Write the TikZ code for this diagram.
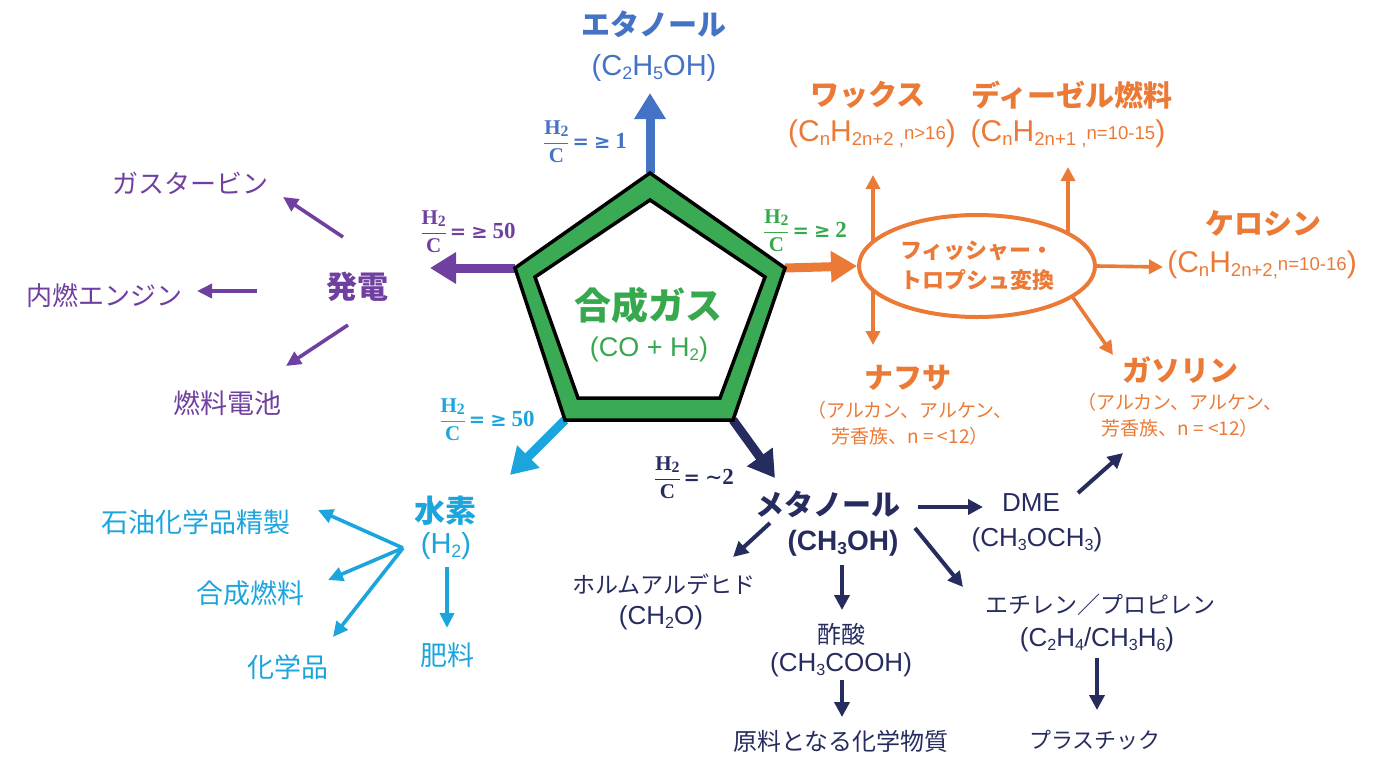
\documentclass[tikz,border=0pt]{standalone}
\usepackage{fontspec}
\setmainfont{Liberation Sans}
\newfontfamily\jp{Noto Sans CJK JP}
\newfontfamily\rs{Liberation Serif}
\newfontfamily\dv{DejaVu Serif}
\usetikzlibrary{arrows.meta,shapes.geometric}
\definecolor{eblue}{HTML}{4472C4}
\definecolor{purp}{HTML}{7040A0}
\definecolor{pgreen}{HTML}{3BAA55}
\definecolor{tgreen}{HTML}{37A84E}
\definecolor{orng}{HTML}{EB7A36}
\definecolor{cyanb}{HTML}{1CA5DD}
\definecolor{navy}{HTML}{262C5E}
\newcommand\lo[1]{\raisebox{-0.28ex}{\scalebox{0.62}{#1}}}
\newcommand\mdl[1]{\raisebox{0.1ex}{\scalebox{0.62}{#1}}}
\newcommand\ratio[1]{$\displaystyle\frac{\hbox{\rs\bfseries H\raisebox{-0.2ex}{\scalebox{0.75}{2}}}}{\hbox{\rs\bfseries C}}$\hspace{3pt}{\fontsize{23}{26}\selectfont{\dv\bfseries\scalebox{0.85}{=}}\hspace{5pt}\rs\bfseries #1}}
\newcommand\geqs{{\dv\bfseries\scalebox{0.85}{≥}}\hspace{5pt}}
\newcommand\sims{{\dv\bfseries\scalebox{0.9}{∼}}}
\begin{document}
\begin{tikzpicture}[x=1pt,y=-1pt,
  title/.style={font=\fontsize{29}{33}\selectfont\jp\bfseries},
  jtxt/.style={font=\fontsize{27}{31}\selectfont\jp},
  njtxt/.style={font=\fontsize{23}{27}\selectfont\jp},
  ojtxt/.style={font=\fontsize{19}{26}\selectfont\jp, align=center},
  form/.style={font=\fontsize{29}{33}\selectfont},
  oform/.style={font=\fontsize{30}{34}\selectfont},
  nform/.style={font=\fontsize{26}{30}\selectfont},
  rat/.style={font=\fontsize{21}{24}\selectfont},
  bigarr/.style={line width=9pt,-{Triangle[length=26pt,width=30pt]}},
  smarr/.style={line width=3.6pt,-{Triangle[length=15pt,width=14pt]}},
  every node/.style={inner sep=0pt}]
\path[use as bounding box] (0,0) rectangle (1392,756);

% pentagon vertices
\coordinate (pT) at (650,173);
\coordinate (pR) at (785,268);
\coordinate (pBR) at (733,420);
\coordinate (pBL) at (565,420);
\coordinate (pL) at (515,268);
\coordinate (qT) at (650,200);
\coordinate (qR) at (765,277);
\coordinate (qBR) at (720,398);
\coordinate (qBL) at (578,398);
\coordinate (qL) at (535,277);

% ---------- ethanol ----------
\node[title, text=eblue] (eth) at (654,24) {エタノール};
\node[form, text=eblue] (ethf) at (654,68) {(C\lo{2}H\lo{5}OH)};
\node[rat, text=eblue] (ethr) at (585,142) {\ratio{\geqs 1}};
\coordinate (ethTip) at (650,93);
\draw[bigarr, eblue] (pT) -- (ethTip);

% ---------- power ----------
\node[rat, text=purp] (powr) at (468,232) {\ratio{\geqs 50}};
\coordinate (powTip) at (430,268);
\draw[bigarr, purp] (pL) -- (powTip);
\node[font=\fontsize{31}{35}\selectfont\jp\bfseries, text=purp] (pow) at (357,287) {発電};
\node[jtxt, text=purp, font=\fontsize{26}{30}\selectfont\jp] (gt) at (190,183) {ガスタービン};
\node[jtxt, text=purp, font=\fontsize{26}{30}\selectfont\jp] (ie) at (104,296) {内燃エンジン};
\node[jtxt, text=purp] (fc) at (227,403) {燃料電池};
\coordinate (gtS) at (343,237); \coordinate (gtE) at (283,197);
\coordinate (ieS) at (257,291); \coordinate (ieE) at (197,291);
\coordinate (fcS) at (348,325); \coordinate (fcE) at (286,366);
\draw[smarr, purp] (gtS) -- (gtE);
\draw[smarr, purp] (ieS) -- (ieE);
\draw[smarr, purp] (fcS) -- (fcE);

% ---------- hydrogen ----------
\node[rat, text=cyanb] (h2r) at (487,420) {\ratio{\geqs 50}};
\coordinate (h2Tip) at (510,475);
\draw[bigarr, cyanb] (pBL) -- (h2Tip);
\node[font=\fontsize{31}{35}\selectfont\jp\bfseries, text=cyanb] (h2) at (445,511) {水素};
\node[form, text=cyanb] (h2f) at (446,546) {(H\lo{2})};
\node[jtxt, text=cyanb] (fer) at (447,655) {肥料};
\node[jtxt, text=cyanb] (pet) at (196,522) {石油化学品精製};
\node[jtxt, text=cyanb] (sf) at (250,593) {合成燃料};
\node[jtxt, text=cyanb] (chem) at (288,667) {化学品};
\coordinate (fan) at (403,548);
\coordinate (petE) at (318,510);
\coordinate (sfE) at (328,580);
\coordinate (chE) at (333,637);
\coordinate (ferS) at (447,567); \coordinate (ferE) at (447,628);
\draw[smarr, cyanb] (fan) -- (petE);
\draw[smarr, cyanb] (fan) -- (sfE);
\draw[smarr, cyanb] (fan) -- (chE);
\draw[smarr, cyanb] (ferS) -- (ferE);

% ---------- methanol ----------
\node[rat, text=navy] (mer) at (694,478) {\ratio{\sims 2}};
\coordinate (meTip) at (775,478);
\draw[bigarr, navy] (pBR) -- (meTip);
\node[title, text=navy] (me) at (828,504) {メタノール};
\node[form, text=navy, font=\fontsize{28}{32}\selectfont\bfseries] (mef) at (843,543) {(CH\lo{3}OH)};
\node[nform, text=navy] (dme) at (1031,503) {DME};
\node[nform, text=navy] (dmef) at (1037,540) {(CH\lo{3}OCH\lo{3})};
\node[njtxt, text=navy] (hc) at (664,584) {ホルムアルデヒド};
\node[nform, text=navy] (hcf) at (661,618) {(CH\lo{2}O)};
\node[njtxt, text=navy, font=\fontsize{24}{28}\selectfont\jp] (ac) at (841,634) {酢酸};
\node[nform, text=navy] (acf) at (841,665) {(CH\lo{3}COOH)};
\node[njtxt, text=navy, font=\fontsize{24}{28}\selectfont\jp] (raw) at (841,741) {原料となる化学物質};
\node[njtxt, text=navy] (et) at (1100,605) {エチレン／プロピレン};
\node[nform, text=navy] (etf) at (1097,640) {(C\lo{2}H\lo{4}/CH\lo{3}H\lo{6})};
\node[njtxt, text=navy, font=\fontsize{22}{26}\selectfont\jp] (pl) at (1095,740) {プラスチック};
\coordinate (dmS) at (918,507); \coordinate (dmE) at (983,507);
\coordinate (dgS) at (1078,493); \coordinate (dgE) at (1123,453);
\coordinate (hcS) at (770,523); \coordinate (hcE) at (733,557);
\coordinate (acS) at (842,565); \coordinate (acE) at (842,610);
\coordinate (rmS) at (842,680); \coordinate (rmE) at (842,717);
\coordinate (etS) at (915,528); \coordinate (etE) at (963,587);
\coordinate (plS) at (1097,658); \coordinate (plE) at (1097,710);
\begin{scope}[smarr, navy, line width=4pt, -{Triangle[length=15pt,width=15pt]}]
\draw (dmS) -- (dmE);
\draw (dgS) -- (dgE);
\draw (hcS) -- (hcE);
\draw (acS) -- (acE);
\draw (rmS) -- (rmE);
\draw (etS) -- (etE);
\draw (plS) -- (plE);
\end{scope}

% ---------- Fischer-Tropsch ----------
\node[rat, text=tgreen] (ftr) at (805,231) {\ratio{\geqs 2}};
\node[ellipse, draw=orng, line width=4pt, minimum width=236pt, minimum height=102pt,
      text=orng, align=center, font=\fontsize{22}{30}\selectfont\jp\bfseries] (fte) at (977,266)
      {フィッシャー・\\トロプシュ変換};
\draw[bigarr, orng] (pR) -- (fte.west);
\node[title, text=orng] (wax) at (868,95) {ワックス};
\node[oform, text=orng] (waxf) at (872,134) {(C\lo{n}H\lo{2n+2 ,}\mdl{n>16})};
\node[title, text=orng] (dsl) at (1072,95) {ディーゼル燃料};
\node[oform, text=orng] (dslf) at (1068,134) {(C\lo{n}H\lo{2n+1 ,}\mdl{n=10-15})};
\node[title, text=orng] (ker) at (1263,223) {ケロシン};
\node[oform, text=orng] (kerf) at (1262,265) {(C\lo{n}H\lo{2n+2,}\mdl{n=10-16})};
\node[title, text=orng] (nap) at (908,378) {ナフサ};
\node[ojtxt, text=orng] (napf) at (910,423) {（アルカン、アルケン、\\芳香族、n = <12）};
\node[title, text=orng] (gas) at (1180,370) {ガソリン};
\node[ojtxt, text=orng] (gasf) at (1180,415) {（アルカン、アルケン、\\芳香族、n = <12）};
\coordinate (wxS) at (873,242); \coordinate (wxE) at (873,175);
\coordinate (dsS) at (1068,234); \coordinate (dsE) at (1068,167);
\coordinate (nfS) at (873,291); \coordinate (nfE) at (873,345);
\coordinate (gsS) at (1072,296); \coordinate (gsE) at (1113,355);
\coordinate (krE) at (1163,267);
\begin{scope}[smarr, orng, line width=3.6pt, -{Triangle[length=14pt,width=14pt]}]
\draw (wxS) -- (wxE);
\draw (dsS) -- (dsE);
\draw (nfS) -- (nfE);
\draw (gsS) -- (gsE);
\draw (fte.east) -- (krE);
\end{scope}

% ---------- pentagon ----------
\draw[line width=3.5pt, fill=pgreen, line join=miter] (pT) -- (pR) -- (pBR) -- (pBL) -- (pL) -- cycle;
\draw[line width=3.5pt, fill=white, line join=miter] (qT) -- (qR) -- (qBR) -- (qBL) -- (qL) -- cycle;
\node[font=\fontsize{37}{41}\selectfont\jp\bfseries, text=tgreen] (syn) at (648,305) {合成ガス};
\node[font=\fontsize{27}{31}\selectfont, text=tgreen] (synf) at (649,350) {(CO + H\lo{2})};
\end{tikzpicture}
\end{document}
